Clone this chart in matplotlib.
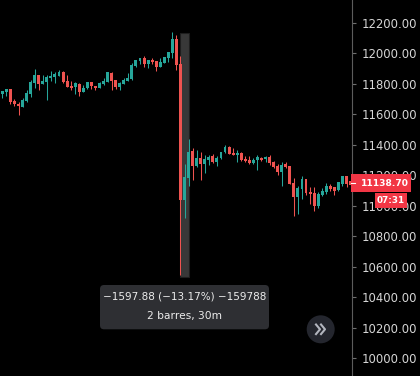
import matplotlib
matplotlib.use("Agg")
import matplotlib.pyplot as plt
from matplotlib.patches import Rectangle, FancyBboxPatch, Circle
from matplotlib.lines import Line2D
from matplotlib.transforms import IdentityTransform
import numpy as np

# OHLC, 30m bars
opens = [11735, 11748, 11765, 11687, 11669, 11647, 11687, 11735, 11805, 11857,
         11800, 11813, 11835, 11844, 11853, 11879, 11818, 11787, 11779, 11800,
         11748, 11770, 11809, 11787, 11774, 11800, 11813, 11870, 11822, 11779,
         11800, 11818, 11831, 11918, 11949, 11967, 11931, 11954, 11949, 11910,
         11936, 11971, 12001, 12093, 11929, 11038, 11180, 11359, 11263, 11313,
         11276, 11300, 11326, 11289, 11313, 11351, 11385, 11346, 11333, 11346,
         11309, 11300, 11282, 11300, 11313, 11305, 11320, 11287, 11261, 11223,
         11274, 11261, 11151, 11059, 11112, 11177, 11092, 11086, 11000, 11073,
         11092, 11132, 11125, 11105, 11145, 11197, 11164]
closes = [11752, 11765, 11682, 11665, 11652, 11695, 11739, 11813, 11857, 11800,
          11818, 11844, 11853, 11862, 11879, 11813, 11779, 11774, 11805, 11748,
          11774, 11809, 11783, 11774, 11805, 11818, 11875, 11818, 11779, 11805,
          11826, 11840, 11923, 11954, 11967, 11927, 11954, 11944, 11910, 11944,
          11975, 12006, 12093, 11923, 11038, 11190, 11354, 11263, 11313, 11276,
          11307, 11320, 11289, 11313, 11352, 11385, 11341, 11335, 11346, 11302,
          11295, 11282, 11300, 11320, 11300, 11320, 11282, 11256, 11223, 11267,
          11256, 11145, 11059, 11118, 11177, 11086, 11079, 11000, 11079, 11099,
          11132, 11112, 11099, 11158, 11197, 11145, 11138.7]
highs = [11752, 11765, 11765, 11700, 11682, 11708, 11757, 11822, 11896, 11860,
         11857, 11857, 11883, 11875, 11888, 11883, 11857, 11818, 11809, 11805,
         11792, 11809, 11809, 11787, 11813, 11835, 11879, 11879, 11822, 11813,
         11840, 11870, 11936, 11954, 11971, 11984, 11954, 11971, 11949, 11971,
         11975, 12006, 12141, 12119, 11984, 11274, 11438, 11379, 11366, 11352,
         11333, 11333, 11339, 11326, 11352, 11398, 11392, 11379, 11366, 11352,
         11328, 11326, 11313, 11333, 11320, 11326, 11333, 11295, 11274, 11287,
         11287, 11261, 11184, 11132, 11197, 11177, 11125, 11125, 11092, 11118,
         11151, 11145, 11125, 11158, 11197, 11197, 11170]
lows = [11708, 11721, 11665, 11656, 11595, 11645, 11678, 11713, 11774, 11761,
        11800, 11695, 11818, 11805, 11853, 11805, 11779, 11761, 11731, 11721,
        11748, 11765, 11765, 11761, 11774, 11792, 11813, 11761, 11765, 11761,
        11796, 11818, 11822, 11910, 11927, 11910, 11905, 11927, 11883, 11910,
        11936, 11944, 11971, 11892, 10546, 10917, 11132, 11171, 11256, 11171,
        11217, 11269, 11282, 11263, 11307, 11344, 11339, 11333, 11287, 11295,
        11287, 11274, 11274, 11234, 11295, 11287, 11267, 11248, 11204, 11132,
        11248, 11145, 10935, 10948, 11046, 11073, 11014, 10968, 10987, 11066,
        11079, 11099, 11073, 11099, 11132, 11125, 11130]

price_ticks = list(range(10000, 12201, 200))
last_price = "11138.70"
countdown = "07:31"
measure_top = 12133.0
measure_change = -1597.88
measure_pct = "(\u221213.17%)"
measure_ticks = "\u2212159788"
measure_bars = "2 barres, 30m"

UP = '#26a69a'
DOWN = '#ef5350'
LABEL_RED = '#f23645'
W, H = 420, 376

fig = plt.figure(figsize=(W / 100, H / 100), dpi=100, facecolor='black')
ax = fig.add_axes([0, 0, 352 / W, 1])
ax.set_facecolor('black')

o = np.array(opens, dtype=float)
c = np.array(closes, dtype=float)
x = np.arange(len(o))
col = np.where(c >= o, UP, DOWN)

# measuring box behind the candles (2 bars)
ax.add_patch(Rectangle((44, measure_top + measure_change), 2, -measure_change,
                       facecolor='#383838', edgecolor='#1e1e1e', lw=0.8, zorder=1))

ax.vlines(x, lows, highs, colors=col, linewidth=0.75, zorder=3)
ax.bar(x, np.maximum(np.abs(c - o), 6), bottom=np.minimum(o, c), width=0.72,
       color=col, zorder=4)

ax.set_xlim(-0.57, 86.35)
ax.set_ylim(9884, 12349)
ax.set_xticks([])
ax.yaxis.tick_right()
ax.set_yticks(price_ticks)
ax.set_yticklabels([f"{v:.2f}" for v in price_ticks])
ax.tick_params(axis='y', colors='#6e6e6e', labelcolor='#d6d6d6',
               labelsize=8.4, length=2.6, width=0.8, pad=4)
for s in ['top', 'left', 'bottom']:
    ax.spines[s].set_visible(False)
ax.spines['right'].set_color('#5c5c5c')
ax.spines['right'].set_linewidth(0.8)

T = IdentityTransform()


def fy(y):
    return H - y


# last price and countdown labels
fig.add_artist(Rectangle((351, fy(192.3)), 60.3, 18, transform=T,
                         facecolor=LABEL_RED, edgecolor='none', zorder=5))
fig.add_artist(Line2D([351, 355], [fy(183.3), fy(183.3)], transform=T,
                      color='white', lw=0.8, zorder=6))
fig.text(360.5, fy(183.3), last_price, transform=T, color='white', fontsize=6.6,
         fontweight='bold', ha='left', va='center', zorder=7)
fig.add_artist(Rectangle((375, fy(208.3)), 32, 15, transform=T,
                         facecolor=LABEL_RED, edgecolor='none', zorder=5))
fig.text(391, fy(200.8), countdown, transform=T, color='white', fontsize=6.4,
         fontweight='bold', ha='center', va='center', zorder=7)

# measure tooltip
fig.add_artist(FancyBboxPatch((100, fy(329.3)), 169, 44.3, transform=T,
                              boxstyle="round,pad=0,rounding_size=4",
                              facecolor='#2e2f33', edgecolor='none', zorder=5))
line1 = f"\u2212{abs(measure_change):.2f} {measure_pct} {measure_ticks}"
fig.text(184.5, fy(296.5), line1, transform=T, color='#ececec', fontsize=7.5,
         ha='center', va='center', zorder=7)
fig.text(184.5, fy(316.5), measure_bars, transform=T, color='#ececec',
         fontsize=7.7, ha='center', va='center', zorder=7)

# scroll-to-realtime button
fig.add_artist(Circle((320.7, fy(329.3)), 14, transform=T, facecolor='#24262e',
                      edgecolor='none', zorder=5))
for dx in (0, 5):
    fig.add_artist(Line2D([316 + dx, 320 + dx, 316 + dx],
                          [fy(324.5), fy(329.3), fy(334.1)], transform=T,
                          color='#b2b5be', lw=1.5, zorder=6))

fig.savefig('out.png', dpi=100, facecolor='black')
